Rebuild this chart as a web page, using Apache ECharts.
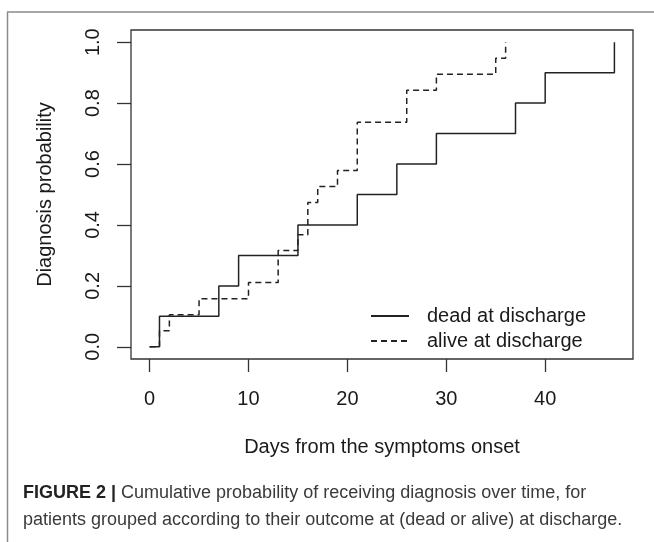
<!DOCTYPE html>
<html>
<head>
<meta charset="utf-8">
<script src="https://cdn.jsdelivr.net/npm/echarts@6/dist/echarts.min.js"></script>
<style>
html,body{margin:0;padding:0;background:#fff;}
#chart{width:654px;height:542px;}
</style>
</head>
<body>
<div id="chart"></div>
<script>
// Data
const deadDays = [0, 1, 7, 9, 15, 21, 25, 29, 37, 40, 47];
const deadProb = [0, 0.1, 0.2, 0.3, 0.4, 0.5, 0.6, 0.7, 0.8, 0.9, 1.0];
const aliveDays = [0, 1, 2, 5, 10, 13, 15, 16, 17, 19, 21, 26, 29, 35, 36];
const aliveProb = [0, 0.053, 0.105, 0.158, 0.211, 0.316, 0.368, 0.474, 0.526, 0.579, 0.737, 0.842, 0.895, 0.947, 1.0];
const xTicks = [0, 10, 20, 30, 40];
const yTicks = [0, 0.2, 0.4, 0.6, 0.8, 1.0];
const seriesNames = ['dead at discharge', 'alive at discharge'];
const xTitle = 'Days from the symptoms onset';
const yTitle = 'Diagnosis probability';
const captionBold = 'FIGURE 2 |';
const captionLine1 = ' Cumulative probability of receiving diagnosis over time, for';
const captionLine2 = 'patients grouped according to their outcome at (dead or alive) at discharge.';

const FONT = 'Liberation Sans, Arial, sans-serif';
const INK = '#1a1a1a';

const chart = echarts.init(document.getElementById('chart'), null, {renderer: 'canvas'});

const pair = (xs, ys) => xs.map((x, i) => [x, ys[i]]);

chart.setOption({
  animation: false,
  backgroundColor: '#fff',
  textStyle: {fontFamily: FONT},
  grid: {
    left: 131, top: 30, right: 21, bottom: 183,
    show: true, borderColor: '#333', borderWidth: 1.3, backgroundColor: 'transparent'
  },
  legend: {
    orient: 'vertical',
    left: 365, top: 301,
    itemWidth: 38, itemHeight: 14, itemGap: 5,
    data: seriesNames,
    itemStyle: {opacity: 0},
    textStyle: {fontSize: 20, color: INK, fontFamily: FONT, lineHeight: 20, padding: [0, 0, 0, 13]}
  },
  xAxis: {
    type: 'value', min: -1.88, max: 48.88,
    splitLine: {show: false},
    axisLine: {show: false, onZero: false},
    axisTick: {show: true, length: 13, customValues: xTicks, lineStyle: {color: '#333', width: 1.3}},
    axisLabel: {customValues: xTicks, fontSize: 20, color: INK, fontFamily: FONT, margin: 30},
    name: xTitle, nameLocation: 'middle', nameGap: 78,
    nameTextStyle: {fontSize: 20, color: INK, fontFamily: FONT}
  },
  yAxis: {
    type: 'value', min: -0.04, max: 1.04,
    splitLine: {show: false},
    axisLine: {show: false, onZero: false},
    axisTick: {show: true, length: 14, customValues: yTicks, lineStyle: {color: '#333', width: 1.3}},
    axisLabel: {customValues: yTicks, fontSize: 20, color: INK, fontFamily: FONT, rotate: 90, margin: 28,
      formatter: v => Number(v).toFixed(1)},
    name: yTitle, nameLocation: 'middle', nameGap: 76, nameRotate: 90,
    nameTextStyle: {fontSize: 20, color: INK, fontFamily: FONT}
  },
  series: [
    {
      name: seriesNames[0], type: 'line', step: 'end', symbol: 'none',
      data: pair(deadDays, deadProb),
      lineStyle: {color: '#222', width: 1.5, type: 'solid'},
      itemStyle: {color: '#222'}
    },
    {
      name: seriesNames[1], type: 'line', step: 'end', symbol: 'none',
      data: pair(aliveDays, aliveProb),
      lineStyle: {color: '#222', width: 1.5, type: [6, 4]},
      itemStyle: {color: '#222'}
    }
  ],
  graphic: [
    {type: 'line', shape: {x1: 7, y1: 12, x2: 654, y2: 12}, style: {stroke: '#8a8a8a', lineWidth: 1.5}, silent: true},
    {type: 'line', shape: {x1: 7.5, y1: 12, x2: 7.5, y2: 542}, style: {stroke: '#8a8a8a', lineWidth: 1.5}, silent: true},
    {type: 'text', left: 23, top: 484, silent: true,
      style: {
        text: '{b|' + captionBold + '}{r|' + captionLine1 + '}',
        rich: {
          b: {fontSize: 18, fontWeight: 'bold', fill: '#222', fontFamily: FONT, lineHeight: 24},
          r: {fontSize: 18, fill: '#3a3a3a', fontFamily: FONT, lineHeight: 24}
        }
      }
    },
    {type: 'text', left: 23, top: 508, silent: true,
      style: {text: captionLine2, fontSize: 18, fill: '#3a3a3a', fontFamily: FONT, lineHeight: 24}
    }
  ]
});
</script>
</body>
</html>
